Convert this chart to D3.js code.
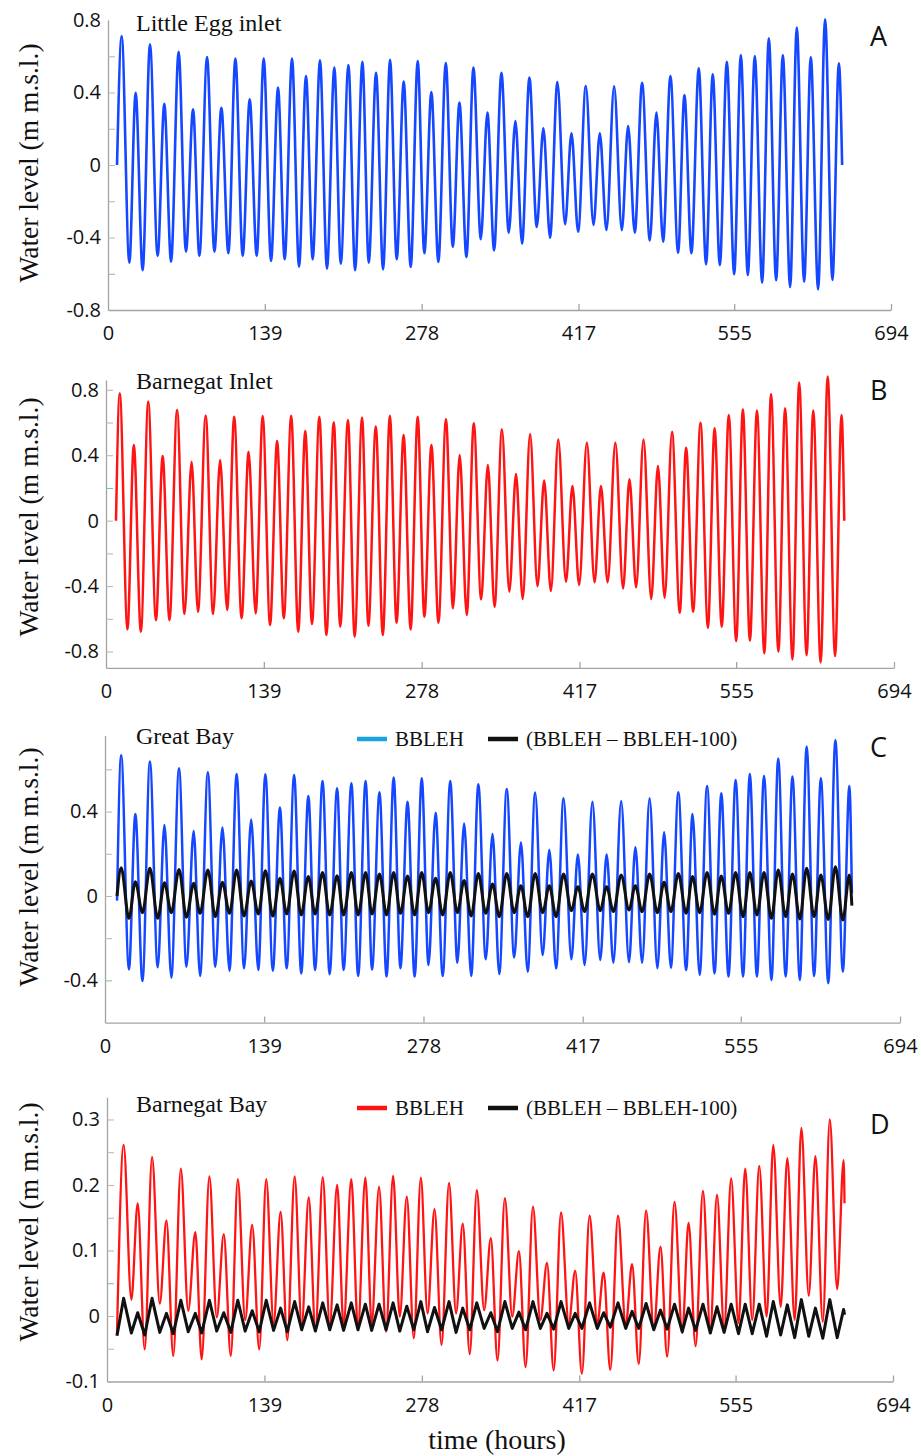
<!DOCTYPE html>
<html>
<head>
<meta charset="utf-8">
<script src="https://cdn.jsdelivr.net/npm/d3@7"></script>
<style>
body { margin: 0; background: #fff; }
</style>
</head>
<body>
<script>
// hours of each high and low water
var highHours = [12.1, 24.5, 37.2, 49.9, 62.6, 75.4, 87.8, 100.5, 112.9, 125.6,
    138.0, 150.7, 163.1, 175.5, 187.9, 200.6, 213.1, 225.5, 237.6, 250.0,
    262.1, 274.5, 286.6, 299.4, 311.5, 323.9, 336.3, 348.7, 361.1, 373.5,
    385.9, 398.3, 410.8, 423.5, 435.9, 448.6, 461.0, 473.4, 486.1, 498.5,
    510.9, 523.6, 536.0, 548.5, 560.9, 573.3, 585.7, 598.1, 610.5, 622.9,
    635.6, 647.8];
var lowHours = [18.9, 30.7, 44.0, 55.9, 69.1, 81.0, 94.3, 106.7, 119.4, 131.8,
    144.5, 156.6, 169.3, 181.4, 194.1, 206.3, 219.0, 231.1, 243.8, 255.9,
    268.3, 280.4, 292.8, 305.6, 317.7, 330.4, 342.2, 355.2, 367.0, 380.0,
    391.8, 405.1, 416.7, 430.3, 441.8, 455.4, 466.9, 480.2, 492.0, 505.3,
    517.1, 530.1, 542.3, 555.0, 567.1, 579.8, 592.2, 604.6, 617.0, 629.4,
    642.1];

var xTicks = [0, 139, 278, 417, 555, 694];

// A - Little Egg inlet
var aHigh = [0.712, 0.399, 0.666, 0.338, 0.625, 0.307, 0.596, 0.316, 0.587, 0.362,
    0.587, 0.427, 0.587, 0.491, 0.577, 0.537, 0.552, 0.570, 0.509, 0.581,
    0.460, 0.574, 0.403, 0.563, 0.344, 0.537, 0.289, 0.509, 0.243, 0.482,
    0.202, 0.458, 0.175, 0.436, 0.175, 0.434, 0.215, 0.454, 0.289, 0.491,
    0.386, 0.533, 0.500, 0.570, 0.607, 0.601, 0.699, 0.607, 0.758, 0.596,
    0.804, 0.561];
var aLow = [-0.539, -0.581, -0.502, -0.533, -0.478, -0.502, -0.478, -0.487, -0.502, -0.502,
    -0.530, -0.520, -0.561, -0.520, -0.572, -0.544, -0.581, -0.539, -0.576, -0.520,
    -0.563, -0.487, -0.535, -0.451, -0.508, -0.410, -0.471, -0.373, -0.434, -0.342,
    -0.401, -0.327, -0.368, -0.331, -0.359, -0.360, -0.373, -0.416, -0.423, -0.484,
    -0.487, -0.548, -0.553, -0.603, -0.607, -0.649, -0.636, -0.673, -0.644, -0.686,
    -0.634];
var aEnds = [[8.0, 0], [650.7, 0]];
var aLabels = [-0.8, -0.4, 0, 0.4, 0.8];
var aTicks = [-0.6, -0.4, -0.2, 0, 0.2, 0.4, 0.6];

// B - Barnegat Inlet
var bHigh = [0.779, 0.463, 0.728, 0.396, 0.677, 0.361, 0.642, 0.371, 0.636, 0.422,
    0.640, 0.487, 0.642, 0.548, 0.636, 0.601, 0.616, 0.630, 0.575, 0.642,
    0.524, 0.636, 0.463, 0.620, 0.402, 0.595, 0.340, 0.559, 0.285, 0.530,
    0.245, 0.497, 0.212, 0.477, 0.212, 0.477, 0.253, 0.497, 0.334, 0.544,
    0.446, 0.599, 0.565, 0.646, 0.681, 0.673, 0.775, 0.687, 0.844, 0.673,
    0.881, 0.646];
var bLow = [-0.665, -0.679, -0.608, -0.608, -0.571, -0.557, -0.571, -0.546, -0.597, -0.567,
    -0.638, -0.597, -0.679, -0.632, -0.699, -0.648, -0.709, -0.642, -0.699, -0.624,
    -0.665, -0.587, -0.624, -0.536, -0.577, -0.481, -0.526, -0.434, -0.479, -0.400,
    -0.430, -0.373, -0.393, -0.377, -0.377, -0.414, -0.408, -0.479, -0.471, -0.563,
    -0.557, -0.654, -0.648, -0.736, -0.734, -0.811, -0.801, -0.848, -0.822, -0.867,
    -0.828];
var bEnds = [[8.8, 0], [650.2, 0]];
var bLabels = [-0.8, -0.4, 0, 0.4, 0.8];
var bTicks = [-0.8, -0.6, -0.4, -0.2, 0, 0.2, 0.4, 0.6, 0.8];

// C - Great Bay
var cHigh = [0.668, 0.389, 0.637, 0.336, 0.605, 0.308, 0.586, 0.324, 0.578, 0.363,
    0.577, 0.419, 0.573, 0.474, 0.545, 0.510, 0.534, 0.545, 0.491, 0.561,
    0.447, 0.558, 0.395, 0.545, 0.344, 0.529, 0.294, 0.507, 0.253, 0.490,
    0.218, 0.463, 0.197, 0.447, 0.197, 0.450, 0.231, 0.463, 0.302, 0.491,
    0.389, 0.521, 0.487, 0.550, 0.578, 0.569, 0.652, 0.566, 0.708, 0.558,
    0.739, 0.521];
var cLow = [-0.348, -0.403, -0.338, -0.387, -0.335, -0.379, -0.335, -0.354, -0.343, -0.351,
    -0.354, -0.343, -0.367, -0.351, -0.371, -0.351, -0.379, -0.348, -0.382, -0.343,
    -0.382, -0.327, -0.379, -0.316, -0.379, -0.300, -0.370, -0.291, -0.359, -0.280,
    -0.343, -0.300, -0.327, -0.303, -0.316, -0.314, -0.316, -0.343, -0.340, -0.351,
    -0.374, -0.367, -0.382, -0.382, -0.382, -0.398, -0.382, -0.398, -0.379, -0.414,
    -0.359];
var cEnds = [[10.5, -0.022], [652.0, 0.013]];
var cDiffHigh = [0.134, 0.068, 0.131, 0.063, 0.126, 0.060, 0.123, 0.065, 0.123, 0.071,
    0.120, 0.084, 0.118, 0.092, 0.111, 0.096, 0.111, 0.111, 0.104, 0.111,
    0.095, 0.111, 0.084, 0.111, 0.073, 0.107, 0.057, 0.107, 0.049, 0.107,
    0.049, 0.104, 0.044, 0.104, 0.044, 0.100, 0.049, 0.104, 0.065, 0.107,
    0.092, 0.111, 0.095, 0.111, 0.111, 0.111, 0.123, 0.104, 0.131, 0.100,
    0.139, 0.100];
var cDiffLow = [-0.106, -0.079, -0.106, -0.079, -0.101, -0.082, -0.098, -0.082, -0.095, -0.085,
    -0.095, -0.085, -0.090, -0.085, -0.090, -0.090, -0.090, -0.085, -0.090, -0.082,
    -0.090, -0.079, -0.090, -0.079, -0.095, -0.082, -0.098, -0.079, -0.098, -0.079,
    -0.098, -0.070, -0.074, -0.070, -0.074, -0.066, -0.074, -0.079, -0.074, -0.082,
    -0.079, -0.087, -0.082, -0.098, -0.090, -0.106, -0.098, -0.109, -0.098, -0.111,
    -0.114];
var cDiffEnds = [[10.5, 0.0], [652.0, -0.046]];
var cLabels = [-0.4, 0, 0.4];
var cTicks = [-0.4, -0.2, 0, 0.2, 0.4, 0.6];

// D - Barnegat Bay
var dHigh = [0.261, 0.172, 0.243, 0.146, 0.225, 0.128, 0.213, 0.125, 0.209, 0.139,
    0.209, 0.159, 0.213, 0.181, 0.212, 0.200, 0.209, 0.211, 0.197, 0.214,
    0.182, 0.211, 0.163, 0.203, 0.141, 0.192, 0.119, 0.180, 0.099, 0.167,
    0.081, 0.158, 0.069, 0.153, 0.066, 0.153, 0.079, 0.161, 0.106, 0.174,
    0.142, 0.191, 0.185, 0.210, 0.225, 0.229, 0.261, 0.241, 0.287, 0.244,
    0.300, 0.238];
var dLow = [0.025, -0.051, 0.019, -0.061, 0.008, -0.066, -0.002, -0.061, -0.006, -0.051,
    -0.011, -0.037, -0.014, -0.021, -0.014, -0.014, -0.019, -0.011, -0.024, -0.001,
    -0.034, 0.004, -0.044, 0.004, -0.058, 0.009, -0.068, -0.001, -0.078, -0.006,
    -0.083, -0.011, -0.088, -0.011, -0.082, -0.014, -0.073, -0.021, -0.062, -0.026,
    -0.046, -0.021, -0.019, -0.011, -0.006, -0.001, 0.014, -0.006, 0.031, -0.009,
    0.041];
var dEnds = [[8.8, -0.029], [651.2, 0.172]];
var dDiffHigh = [0.027, 0.005, 0.027, 0.004, 0.024, 0.004, 0.024, 0.005, 0.024, 0.008,
    0.024, 0.012, 0.022, 0.014, 0.020, 0.017, 0.020, 0.018, 0.018, 0.020,
    0.015, 0.022, 0.013, 0.022, 0.012, 0.020, 0.005, 0.022, 0.006, 0.022,
    0.004, 0.022, 0.004, 0.020, 0.005, 0.020, 0.007, 0.019, 0.009, 0.018,
    0.012, 0.018, 0.014, 0.018, 0.018, 0.018, 0.022, 0.017, 0.025, 0.012,
    0.025, 0.010];
var dDiffLow = [-0.026, -0.029, -0.025, -0.027, -0.024, -0.026, -0.023, -0.025, -0.023, -0.024,
    -0.022, -0.024, -0.021, -0.023, -0.021, -0.022, -0.021, -0.022, -0.021, -0.023,
    -0.021, -0.024, -0.021, -0.025, -0.021, -0.019, -0.024, -0.019, -0.021, -0.019,
    -0.020, -0.019, -0.019, -0.019, -0.017, -0.019, -0.019, -0.021, -0.020, -0.024,
    -0.022, -0.026, -0.025, -0.027, -0.027, -0.031, -0.029, -0.033, -0.031, -0.034,
    -0.033];
var dDiffEnds = [[8.8, -0.030], [651.2, 0.002]];
var dLabels = [-0.1, 0, 0.1, 0.2, 0.3];
var dTicks = [-0.05, 0, 0.05, 0.1, 0.15, 0.2, 0.25, 0.3];

var legendNames = ['BBLEH', '(BBLEH \u2013 BBLEH-100)'];

var svg = d3.select('body').append('svg')
    .attr('width', 921)
    .attr('height', 1456);

var sans = "'Open Sans', 'DejaVu Sans', sans-serif";
var serif = "'Liberation Serif', 'DejaVu Serif', serif";
var axisGrey = '#a3a3a3';

// chain start point, high/low pairs and end point into one series
function tide(ends, highs, lows, lag) {
    var pts = [ends[0]];
    highs.forEach(function(h, i) {
        pts.push([highHours[i] + lag, h]);
        if (i < lows.length) pts.push([lowHours[i] + lag, lows[i]]);
    });
    pts.push(ends[1]);
    return pts;
}

function panel(p) {
    var x = d3.scaleLinear().domain([0, 694]).range([p.left, p.right]);
    var y = d3.scaleLinear().domain(p.domain).range([p.bottom, p.top]);
    var g = svg.append('g');

    // y axis: labels outside, short ticks inside
    var ya = g.append('g')
        .attr('transform', 'translate(' + p.left + ',0)')
        .call(d3.axisLeft(y).tickValues(p.labels).tickSize(0).tickPadding(7)
            .tickFormat(function(d) { return String(d); }));
    ya.select('.domain').attr('stroke', axisGrey).attr('stroke-width', 1.3);
    ya.selectAll('text').attr('font-family', sans).attr('font-size', 20).attr('fill', '#111');

    var yt = g.append('g')
        .attr('transform', 'translate(' + p.left + ',0)')
        .call(d3.axisRight(y).tickValues(p.ticks).tickSize(7).tickFormat(''));
    yt.select('.domain').remove();
    yt.selectAll('line')
        .attr('stroke', function(d) { return d === p.green ? '#7cc47c' : '#b5b5b5'; })
        .attr('stroke-width', 1);

    // x axis
    var xa = g.append('g')
        .attr('transform', 'translate(0,' + p.bottom + ')')
        .call(d3.axisBottom(x).tickValues(xTicks).tickSize(0).tickPadding(16));
    xa.select('.domain').attr('stroke', axisGrey).attr('stroke-width', 1.3);
    xa.selectAll('text').attr('font-family', sans).attr('font-size', 20).attr('fill', '#111');

    var xt = g.append('g')
        .attr('transform', 'translate(0,' + p.bottom + ')')
        .call(d3.axisTop(x).tickValues(xTicks.slice(1)).tickSize(6).tickFormat(''));
    xt.select('.domain').remove();
    xt.selectAll('line').attr('stroke', axisGrey).attr('stroke-width', 1.3);

    // series
    p.series.forEach(function(s) {
        g.append('path')
            .datum(s.points)
            .attr('fill', 'none')
            .attr('stroke', s.color)
            .attr('stroke-width', s.width)
            .attr('stroke-linejoin', 'round')
            .attr('d', d3.line()
                .x(function(d) { return x(d[0]); })
                .y(function(d) { return y(d[1]); })
                .curve(s.curve));
    });

    // y title
    g.append('text')
        .attr('transform', 'translate(38,' + p.titleY + ') rotate(-90)')
        .attr('text-anchor', 'middle')
        .attr('font-family', serif)
        .attr('font-size', 27.5)
        .attr('fill', '#111')
        .text('Water level (m m.s.l.)');

    // panel name and letter
    g.append('text')
        .attr('x', 136)
        .attr('y', p.nameY)
        .attr('font-family', serif)
        .attr('font-size', 24)
        .attr('fill', '#111')
        .text(p.name);

    g.append('text')
        .attr('x', 870)
        .attr('y', p.letterY)
        .attr('font-family', sans)
        .attr('font-size', 27)
        .attr('fill', '#111')
        .text(p.letter);

    // legend
    if (p.legend) {
        p.legend.forEach(function(l, i) {
            var lx = i === 0 ? 357 : 488;
            g.append('line')
                .attr('x1', lx).attr('x2', lx + 30)
                .attr('y1', p.legendY).attr('y2', p.legendY)
                .attr('stroke', l.color)
                .attr('stroke-width', 4.5);
            g.append('text')
                .attr('x', lx + 38)
                .attr('y', p.legendY + 7)
                .attr('font-family', serif)
                .attr('font-size', 21)
                .attr('fill', '#111')
                .text(legendNames[i]);
        });
    }
}

var blue = '#1447ff';
var red = '#ff1414';
var black = '#111111';

panel({
    left: 108, right: 891, top: 20, bottom: 310, domain: [-0.8, 0.8],
    labels: aLabels, ticks: aTicks, green: -0.6,
    name: 'Little Egg inlet', nameY: 31, letter: 'A', letterY: 46, titleY: 163,
    series: [{ points: tide(aEnds, aHigh, aLow, 0), color: blue, width: 2.6, curve: d3.curveMonotoneX }]
});

panel({
    left: 106, right: 894, top: 380, bottom: 667.9, domain: [-0.9, 0.86],
    labels: bLabels, ticks: bTicks, green: 0.2,
    name: 'Barnegat Inlet', nameY: 389, letter: 'B', letterY: 400, titleY: 517,
    series: [{ points: tide(bEnds, bHigh, bLow, 0), color: red, width: 2.5, curve: d3.curveMonotoneX }]
});

panel({
    left: 105, right: 900, top: 735.6, bottom: 1022.6, domain: [-0.6, 0.76],
    labels: cLabels, ticks: cTicks, green: -0.4,
    name: 'Great Bay', nameY: 744, letter: 'C', letterY: 757, titleY: 867,
    legendY: 739, legend: [{ color: '#1aa3de' }, { color: black }],
    series: [
        { points: tide(cEnds, cHigh, cLow, 2), color: blue, width: 2.5, curve: d3.curveMonotoneX },
        { points: tide(cDiffEnds, cDiffHigh, cDiffLow, 2), color: black, width: 3, curve: d3.curveMonotoneX }
    ]
});

panel({
    left: 107, right: 893, top: 1097.2, bottom: 1381.5, domain: [-0.1, 0.334],
    labels: dLabels, ticks: dTicks, green: 0.05,
    name: 'Barnegat Bay', nameY: 1112, letter: 'D', letterY: 1134, titleY: 1222,
    legendY: 1108, legend: [{ color: red }, { color: black }],
    series: [
        { points: tide(dEnds, dHigh, dLow, 2.6), color: red, width: 2.3, curve: d3.curveMonotoneX },
        { points: tide(dDiffEnds, dDiffHigh, dDiffLow, 2.6), color: black, width: 3, curve: d3.curveLinear }
    ]
});

svg.append('text')
    .attr('x', 497)
    .attr('y', 1449)
    .attr('text-anchor', 'middle')
    .attr('font-family', serif)
    .attr('font-size', 28)
    .attr('fill', '#111')
    .text('time (hours)');
</script>
</body>
</html>
